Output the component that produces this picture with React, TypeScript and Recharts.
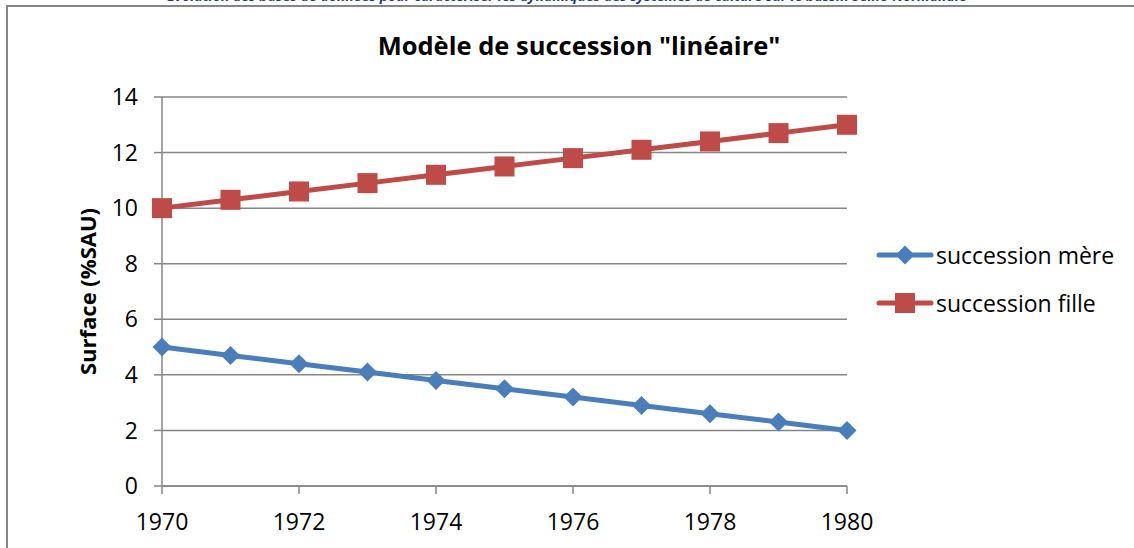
import { CartesianGrid, Line, LineChart, XAxis, YAxis } from "recharts";

const years = [1970, 1971, 1972, 1973, 1974, 1975, 1976, 1977, 1978, 1979, 1980];
const mereValues = [5, 4.7, 4.4, 4.1, 3.8, 3.5, 3.2, 2.9, 2.6, 2.3, 2.0];
const filleValues = [10, 10.3, 10.6, 10.9, 11.2, 11.5, 11.8, 12.1, 12.4, 12.7, 13];
const xTicks = [1970, 1972, 1974, 1976, 1978, 1980];
const yTicks = [0, 2, 4, 6, 8, 10, 12, 14];

const seriesNames = { mere: "succession mère", fille: "succession fille" };
const BLUE = "#4a7ebb";
const RED = "#be4b48";
const AXIS = "#868686";
const FONT = "'Open Sans', sans-serif";

const data = years.map((year, i) => ({
  year,
  mere: mereValues[i],
  fille: filleValues[i]
}));

const Diamond = (props: any) => {
  const { cx, cy } = props;
  if (cx == null || cy == null) return null;
  const r = 9.5;
  return (
    <path
      d={`M${cx},${cy - r}L${cx + r},${cy}L${cx},${cy + r}L${cx - r},${cy}Z`}
      fill={BLUE}
    />
  );
};

const Square = (props: any) => {
  const { cx, cy } = props;
  if (cx == null || cy == null) return null;
  const s = 10;
  return <rect x={cx - s} y={cy - s} width={s * 2} height={s * 2} fill={RED} />;
};

const LegendBox = () => {
  const items = [
    { name: seriesNames.mere, color: BLUE, square: false },
    { name: seriesNames.fille, color: RED, square: true }
  ];
  return (
    <div style={{ fontFamily: FONT, fontSize: 23, color: "#000", lineHeight: "28px" }}>
      {items.map((it) => (
        <div key={it.name} style={{ display: "flex", alignItems: "center", height: 48 }}>
          <svg width={58} height={24}>
            <line x1={3} y1={12} x2={55} y2={12} stroke={it.color} strokeWidth={5} strokeLinecap="round" />
            {it.square ? (
              <rect x={19} y={2} width={20} height={20} fill={it.color} />
            ) : (
              <path d="M29,2.5L38.5,12L29,21.5L19.5,12Z" fill={it.color} />
            )}
          </svg>
          <span style={{ marginLeft: 2 }}>{it.name}</span>
        </div>
      ))}
    </div>
  );
};

export default function App() {
  return (
    <div
      style={{
        position: "absolute",
        left: 0,
        top: 0,
        width: 1134,
        height: 548,
        background: "#fff",
        overflow: "hidden"
      }}
    >
      <div
        style={{
          position: "absolute",
          left: 0,
          top: -12,
          width: 1134,
          textAlign: "center",
          fontFamily: FONT,
          fontSize: 14,
          fontWeight: 700,
          fontStyle: "italic",
          color: "#1f3d7a",
          lineHeight: "16px"
        }}
      >
        Evolution des bases de données pour caractériser les dynamiques des systèmes de culture sur le bassin Seine-Normandie
      </div>
      <div
        style={{
          position: "absolute",
          left: 6,
          top: 5,
          width: 1140,
          height: 560,
          border: `2px solid ${AXIS}`,
          background: "#fff"
        }}
      />
      <div
        style={{
          position: "absolute",
          left: 0,
          top: 27,
          width: 1158,
          textAlign: "center",
          fontFamily: FONT,
          fontSize: 25.5,
          fontWeight: 700,
          color: "#000",
          lineHeight: "36px"
        }}
      >
        Modèle de succession "linéaire"
      </div>
      <div style={{ position: "absolute", left: 0, top: 0 }}>
        <LineChart
          width={1134}
          height={548}
          data={data}
          margin={{ top: 97, right: 287, bottom: 32, left: 100 }}
        >
          <CartesianGrid horizontal vertical={false} stroke={AXIS} strokeWidth={1.5} />
          <XAxis
            dataKey="year"
            type="number"
            domain={[1970, 1980]}
            ticks={xTicks}
            height={30}
            stroke={AXIS}
            strokeWidth={1.5}
            tickSize={8}
            tickMargin={20}
            tick={{ fill: "#000", fontSize: 23, fontFamily: FONT }}
          />
          <YAxis
            domain={[0, 14]}
            ticks={yTicks}
            width={62}
            stroke={AXIS}
            strokeWidth={1.5}
            tickSize={8}
            tickMargin={16}
            tick={{ fill: "#000", fontSize: 23, fontFamily: FONT }}
            label={{
              value: "Surface (%SAU)",
              angle: -90,
              position: "insideLeft",
              offset: -12,
              style: { textAnchor: "middle", fontFamily: FONT, fontSize: 22, fontWeight: 700, fill: "#000" }
            }}
          />
          <Line
            dataKey="mere"
            name={seriesNames.mere}
            stroke={BLUE}
            strokeWidth={5}
            dot={<Diamond />}
            activeDot={false}
            isAnimationActive={false}
          />
          <Line
            dataKey="fille"
            name={seriesNames.fille}
            stroke={RED}
            strokeWidth={5}
            dot={<Square />}
            activeDot={false}
            isAnimationActive={false}
          />
        </LineChart>
      </div>
      <div style={{ position: "absolute", left: 876, top: 231, width: 258 }}>
        <LegendBox />
      </div>
    </div>
  );
}
